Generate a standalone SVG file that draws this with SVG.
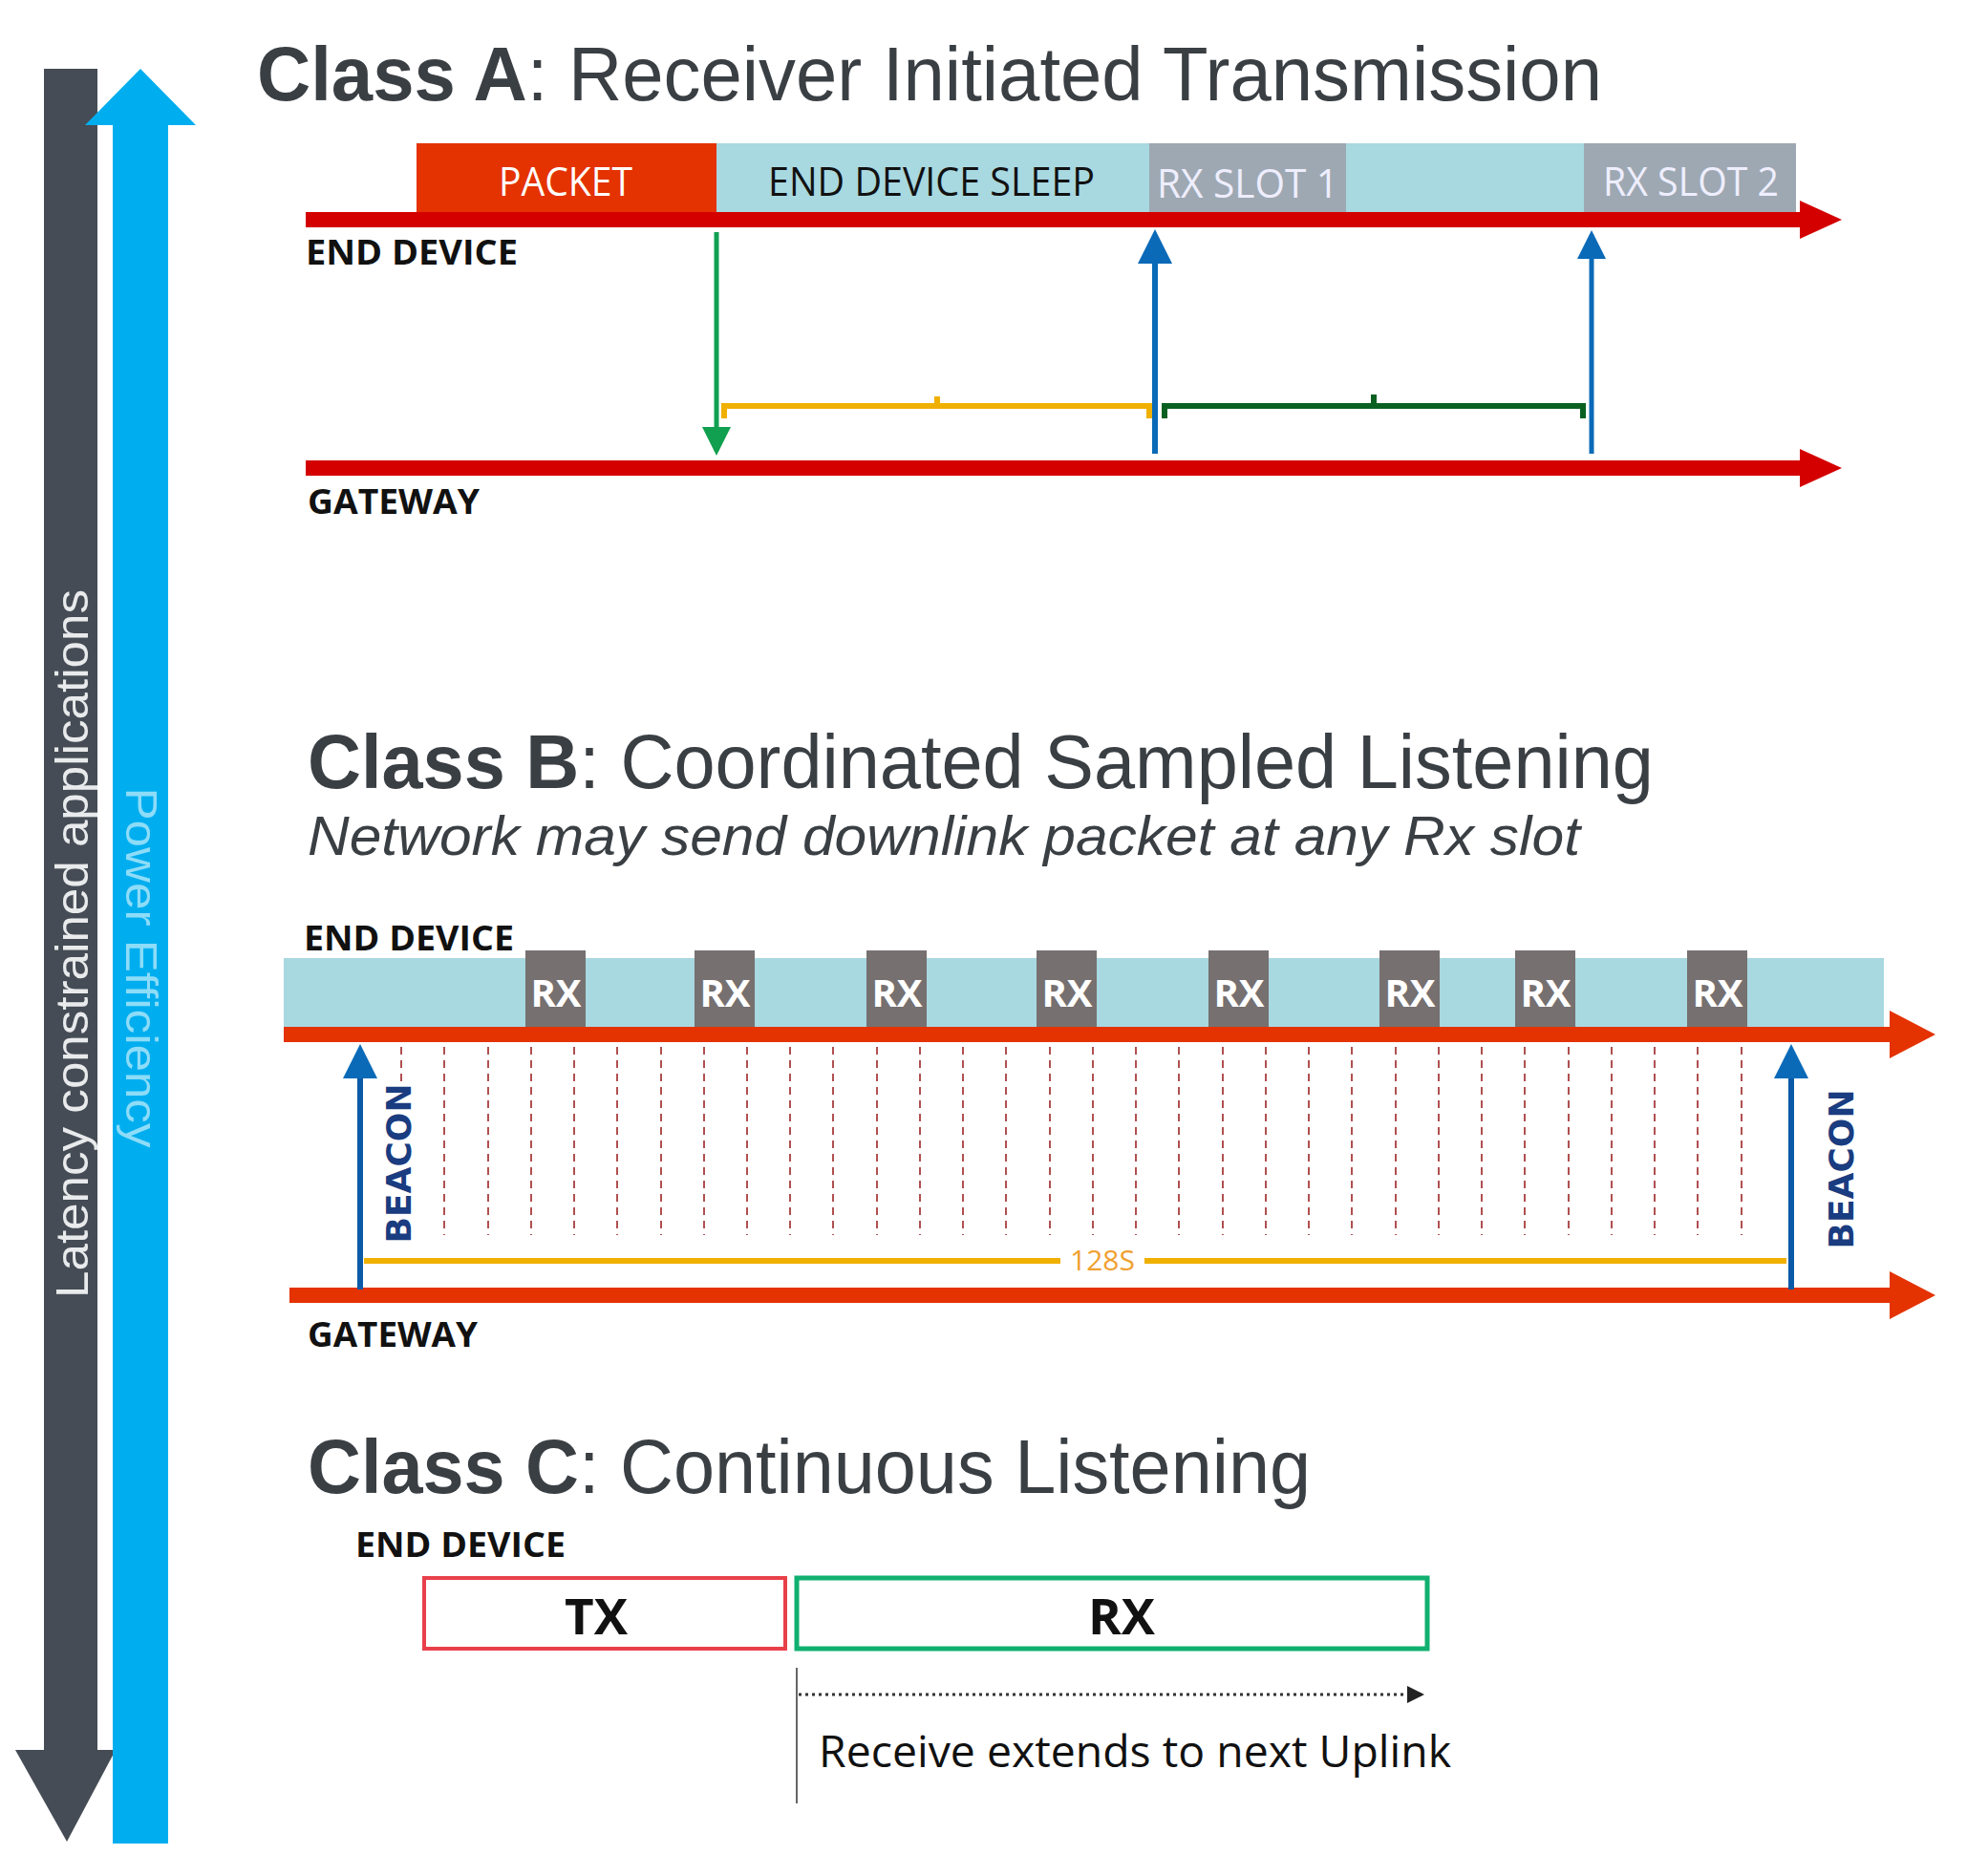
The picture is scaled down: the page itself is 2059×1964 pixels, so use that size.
<svg xmlns="http://www.w3.org/2000/svg" width="2059" height="1964" viewBox="0 0 2059 1964">
<defs>
<style>
.t{font-family:"Liberation Sans",Arial,sans-serif;fill:#3a3f44;font-size:80px}
.lb{font-family:"Open Sans","Liberation Sans",sans-serif;font-weight:bold;fill:#111;font-size:36px}
.bx{font-family:"Open Sans","Liberation Sans",sans-serif;font-size:42px}
.rx{font-family:"Open Sans","Liberation Sans",sans-serif;font-weight:bold;fill:#fff;font-size:40px}
.dash{stroke:#b05050;stroke-width:2;stroke-dasharray:8 6}
</style>
<marker id="ab" markerWidth="6" markerHeight="6" refX="5" refY="3" orient="auto" markerUnits="strokeWidth"><path d="M0,0 L6,3 L0,6 z" fill="#0a6ab8"/></marker>
<marker id="ag" markerWidth="6" markerHeight="6" refX="5" refY="3" orient="auto" markerUnits="strokeWidth"><path d="M0,0 L6,3 L0,6 z" fill="#10a050"/></marker>
<marker id="ak" markerWidth="6" markerHeight="6" refX="5" refY="3" orient="auto" markerUnits="strokeWidth"><path d="M0,0 L6,3 L0,6 z" fill="#222"/></marker>
</defs>
<rect width="2059" height="1964" fill="#fff"/>
<g id="side-arrows">
<rect x="46" y="72" width="56" height="1765" fill="#454c55"/>
<path d="M16,1832 L121,1832 L70,1928 z" fill="#454c55"/>
<rect x="118" y="128" width="58" height="1802" fill="#00aeef"/>
<path d="M89,131 L205,131 L147,72 z" fill="#00aeef"/>
<text transform="translate(92,988) rotate(-90)" text-anchor="middle" font-family="Liberation Sans,Arial,sans-serif" font-size="48" fill="#e8eaec" textLength="742" lengthAdjust="spacingAndGlyphs">Latency constrained applications</text>
<text transform="translate(132,1013) rotate(90)" text-anchor="middle" font-family="Liberation Sans,Arial,sans-serif" font-size="46" fill="#8ddcf8" textLength="377" lengthAdjust="spacingAndGlyphs">Power Efficiency</text>
</g>
<g id="classA">
<text class="t" x="269" y="105" textLength="1408" lengthAdjust="spacingAndGlyphs"><tspan font-weight="bold">Class A</tspan>: Receiver Initiated Transmission</text>
<rect x="436" y="150" width="314" height="76" fill="#e43200"/>
<rect x="750" y="150" width="453" height="76" fill="#a8d8e0"/>
<rect x="1203" y="150" width="206" height="76" fill="#9ea8b2"/>
<rect x="1409" y="150" width="249" height="76" fill="#a8d8e0"/>
<rect x="1658" y="150" width="222" height="76" fill="#9ea8b2"/>
<text class="bx" x="592" y="205" text-anchor="middle" fill="#fff" textLength="140" lengthAdjust="spacingAndGlyphs">PACKET</text>
<text class="bx" x="975" y="205" text-anchor="middle" fill="#111" textLength="342" lengthAdjust="spacingAndGlyphs">END DEVICE SLEEP</text>
<text class="bx" x="1306" y="207" text-anchor="middle" fill="#eef" textLength="190" lengthAdjust="spacingAndGlyphs">RX SLOT 1</text>
<text class="bx" x="1770" y="205" text-anchor="middle" fill="#eef" textLength="184" lengthAdjust="spacingAndGlyphs">RX SLOT 2</text>
<rect x="320" y="222" width="1566" height="16" fill="#d40000"/>
<path d="M1884,210 L1928,230 L1884,250 z" fill="#d40000"/>
<text class="lb" x="320" y="277" textLength="222" lengthAdjust="spacingAndGlyphs">END DEVICE</text>
<rect x="320" y="482" width="1566" height="16" fill="#d40000"/>
<path d="M1884,470 L1928,490 L1884,510 z" fill="#d40000"/>
<text class="lb" x="322" y="538" textLength="180" lengthAdjust="spacingAndGlyphs">GATEWAY</text>
</g>
<g id="classB">
<text class="t" x="322" y="825" textLength="1409" lengthAdjust="spacingAndGlyphs"><tspan font-weight="bold">Class B</tspan>: Coordinated Sampled Listening</text>
<text x="322" y="895" font-family="Liberation Sans,Arial,sans-serif" font-style="italic" font-size="57" fill="#3a3f44" textLength="1332" lengthAdjust="spacingAndGlyphs">Network may send downlink packet at any Rx slot</text>
<text class="lb" x="318" y="995" textLength="220" lengthAdjust="spacingAndGlyphs">END DEVICE</text>
<rect x="297" y="1003" width="1675" height="74" fill="#a8d8e0"/>
<g fill="#767070">
<rect x="550" y="995" width="63" height="82"/><rect x="727" y="995" width="63" height="82"/><rect x="907" y="995" width="63" height="82"/><rect x="1085" y="995" width="63" height="82"/><rect x="1265" y="995" width="63" height="82"/><rect x="1444" y="995" width="63" height="82"/><rect x="1586" y="995" width="63" height="82"/><rect x="1766" y="995" width="63" height="82"/>
</g>
<g class="rx" text-anchor="middle">
<text x="582" y="1054">RX</text><text x="759" y="1054">RX</text><text x="939" y="1054">RX</text><text x="1117" y="1054">RX</text><text x="1297" y="1054">RX</text><text x="1476" y="1054">RX</text><text x="1618" y="1054">RX</text><text x="1798" y="1054">RX</text>
</g>
<rect x="297" y="1075" width="1685" height="16" fill="#e43200"/>
<path d="M1978,1058 L2026,1083 L1978,1108 z" fill="#e43200"/>
<path class="dash" d="M420,1096V1132M465,1096V1293M511,1096V1293M556,1096V1293M601,1096V1293M646,1096V1293M692,1096V1293M737,1096V1293M782,1096V1293M827,1096V1293M872,1096V1293M918,1096V1293M963,1096V1293M1008,1096V1293M1053,1096V1293M1099,1096V1293M1144,1096V1293M1189,1096V1293M1234,1096V1293M1280,1096V1293M1325,1096V1293M1370,1096V1293M1415,1096V1293M1461,1096V1293M1506,1096V1293M1551,1096V1293M1596,1096V1293M1642,1096V1293M1687,1096V1293M1732,1096V1293M1777,1096V1293M1823,1096V1293"/>
<path d="M381,1320H1110M1198,1320H1870" stroke="#f0b000" stroke-width="6"/>
<text x="1154" y="1330" text-anchor="middle" font-family="Open Sans,Liberation Sans,sans-serif" font-size="30" fill="#f0a030">128S</text>
<rect x="303" y="1348" width="1680" height="16" fill="#e43200"/>
<path d="M1978,1331 L2026,1356 L1978,1381 z" fill="#e43200"/>
<text transform="translate(430,1218) rotate(-90)" text-anchor="middle" font-family="DejaVu Sans,sans-serif" font-weight="bold" font-size="36" fill="#1a3c80">BEACON</text>
<text transform="translate(1940,1224) rotate(-90)" text-anchor="middle" font-family="DejaVu Sans,sans-serif" font-weight="bold" font-size="36" fill="#1a3c80">BEACON</text>
<text class="lb" x="322" y="1410" textLength="178" lengthAdjust="spacingAndGlyphs">GATEWAY</text>
</g>
<g id="classC">
<text class="t" x="322" y="1563" textLength="1050" lengthAdjust="spacingAndGlyphs"><tspan font-weight="bold">Class C</tspan>: Continuous Listening</text>
<text class="lb" x="372" y="1630" textLength="220" lengthAdjust="spacingAndGlyphs">END DEVICE</text>
<rect x="444" y="1652" width="378" height="74" fill="#fff" stroke="#e8404a" stroke-width="4"/>
<rect x="834" y="1652" width="660" height="74" fill="#fff" stroke="#10b070" stroke-width="5"/>
<text x="624" y="1711" text-anchor="middle" font-family="Open Sans,Liberation Sans,sans-serif" font-weight="bold" font-size="52" fill="#111" textLength="66" lengthAdjust="spacingAndGlyphs">TX</text>
<text x="1174" y="1711" text-anchor="middle" font-family="Open Sans,Liberation Sans,sans-serif" font-weight="bold" font-size="52" fill="#111" textLength="70" lengthAdjust="spacingAndGlyphs">RX</text>
<text x="857" y="1850" font-family="Open Sans,Liberation Sans,sans-serif" font-size="46" fill="#111" textLength="662" lengthAdjust="spacingAndGlyphs">Receive extends to next Uplink</text>
</g>
<g id="connectors">
<path d="M750,243V472" stroke="#10a050" stroke-width="5" marker-end="url(#ag)"/>
<path d="M1209,475V246" stroke="#0a6ab8" stroke-width="6" marker-end="url(#ab)"/>
<path d="M1666,475V246" stroke="#0a6ab8" stroke-width="5" marker-end="url(#ab)"/>
<path d="M758,438V425H1203V438M981,425V415" fill="none" stroke="#f0b000" stroke-width="6"/>
<path d="M1219,438V425H1657V438M1438,425V413" fill="none" stroke="#0a6020" stroke-width="6"/>
<path d="M377,1350V1099" stroke="#0a5aa8" stroke-width="6" marker-end="url(#ab)"/>
<path d="M1875,1350V1099" stroke="#0a5aa8" stroke-width="6" marker-end="url(#ab)"/>
<path d="M834,1746V1888" stroke="#666" stroke-width="2"/>
<path d="M836,1774H1488" stroke="#333" stroke-width="3" stroke-dasharray="3 4" marker-end="url(#ak)"/>
</g>
</svg>
